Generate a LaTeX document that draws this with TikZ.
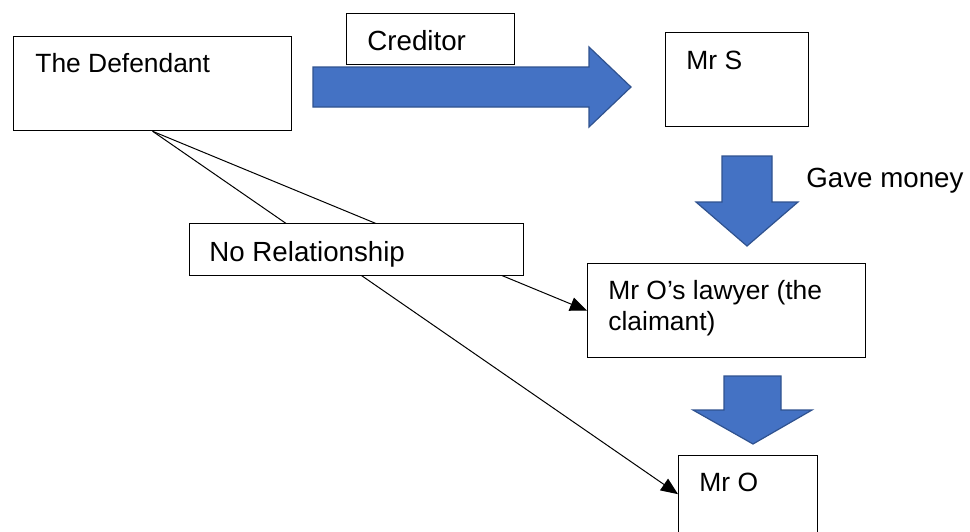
\documentclass[tikz,border=0pt]{standalone}
\usepackage{fontspec}
\setmainfont{Liberation Sans}
\usetikzlibrary{arrows.meta}
\definecolor{blockfill}{HTML}{4472C4}
\definecolor{blockedge}{HTML}{2F528F}

\begin{document}
\begin{tikzpicture}[x=0.5pt,y=-0.5pt,
  box/.style={draw=black, line width=0.65pt, fill=white, inner sep=0pt, anchor=north west},
  lbl/.style={inner sep=0pt, anchor=base west, font=\fontsize{13.2}{15.5}\selectfont, align=left},
  biglbl/.style={lbl, font=\fontsize{13.85}{16}\selectfont},
  link/.style={draw=black, line width=0.5pt, -{Triangle[length=8.5pt,width=7pt]}},
  block/.style={fill=blockfill, draw=blockedge, line width=0.6pt, line join=miter}]
\useasboundingbox (0,0) rectangle (970,531);

% boxes
\node[box, minimum width=139pt, minimum height=47pt] (def) at (13,36) {};
\node[box, minimum width=84pt, minimum height=25.5pt] (cred) at (346,13) {};
\node[box, minimum width=71.5pt, minimum height=47pt] (mrs) at (665,32) {};
\node[box, minimum width=139pt, minimum height=47pt] (law) at (587,263) {};
\node[box, minimum width=69.5pt, minimum height=38.5pt] (mro) at (678,455) {};

% connectors from the defendant (pass under the label box)
\draw[link] (def.south) -- (law.west);
\draw[link] (def.south) -- (mro.west);

\node[box, minimum width=167pt, minimum height=26pt] (norel) at (189,223) {};

% texts
\node[lbl] (def-t) at (35,72) {The Defendant};
\node[biglbl] (cred-t) at (367,50) {Creditor};
\node[lbl] (mrs-t) at (686,69) {Mr S};
\node[biglbl] (gave-t) at (806,187) {Gave money};
\node[biglbl] (norel-t) at (209,261) {No Relationship};
\node[lbl] (law-t) at (608,330) {Mr O’s lawyer (the\\claimant)};
\node[lbl] (mro-t) at (699,491) {Mr O};

% block arrows
\path[block] (313,67) -- (589,67) -- (589,47) -- (631,87) -- (589,127) -- (589,107) -- (313,107) -- cycle;
\path[block] (722,156) -- (772,156) -- (772,202) -- (798,202) -- (747,246) -- (696,202) -- (722,202) -- cycle;
\path[block] (724,376) -- (781,376) -- (781,410) -- (812,410) -- (753,444) -- (693,410) -- (724,410) -- cycle;
\end{tikzpicture}
\end{document}
